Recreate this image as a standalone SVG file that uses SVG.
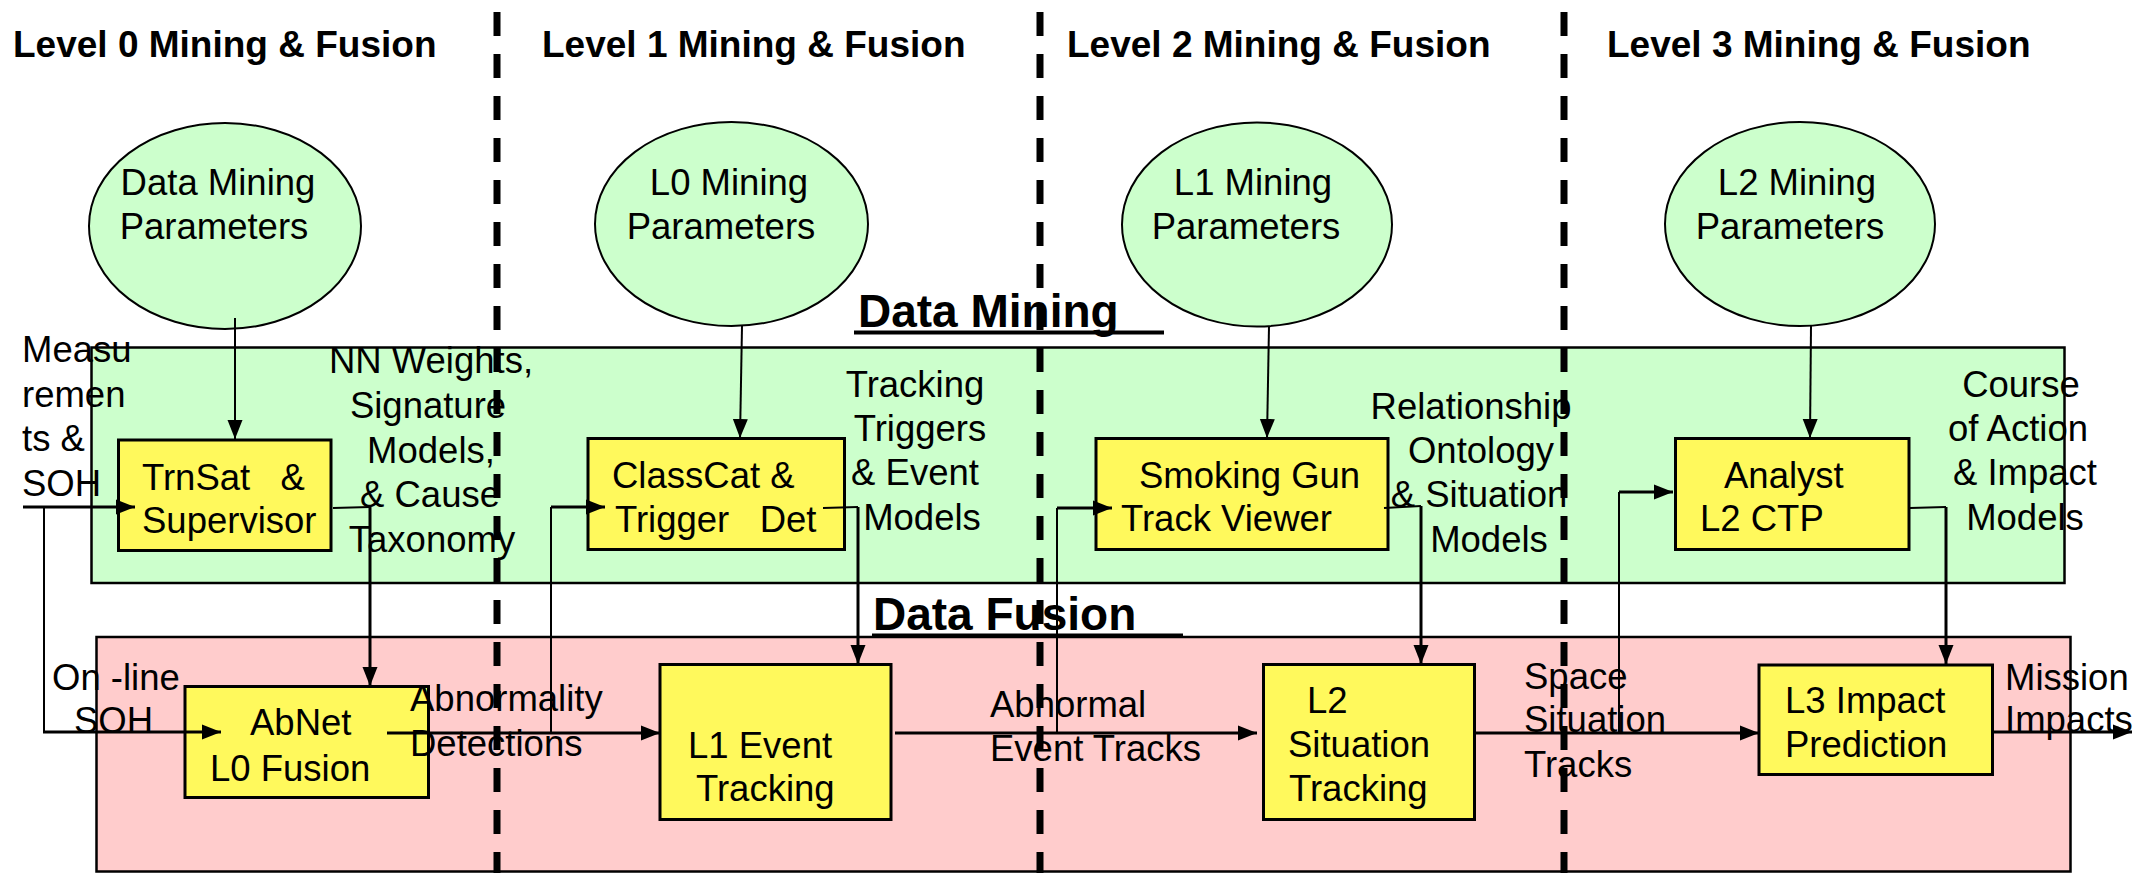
<svg xmlns="http://www.w3.org/2000/svg" width="2151" height="873" viewBox="0 0 2151 873">
  <style>
    .t { font-family: "Liberation Sans", Arial, sans-serif; font-size: 36.5px; fill: #000; }
    .b { font-weight: bold; font-size: 37px; }
    .sec { font-family: "Liberation Sans", Arial, sans-serif; font-size: 46px; font-weight: bold; fill: #000; }
    .m { text-anchor: middle; }
    .band-mine { fill: #CCFFCC; stroke: #000; stroke-width: 2.5; }
    .band-fuse { fill: #FFCCCC; stroke: #000; stroke-width: 2.5; }
    .divider { stroke: #000; stroke-width: 7; stroke-dasharray: 24 18; fill: none; }
    .param { fill: #CCFFCC; stroke: #000; stroke-width: 2; }
    .box { fill: #FFF95C; stroke: #000; stroke-width: 3; }
    .thin { stroke: #000; stroke-width: 2; fill: none; }
    .thick { stroke: #000; stroke-width: 3; fill: none; }
    .arr { marker-end: url(#ah); }
  </style>
  <defs>
    <marker id="ah" markerUnits="userSpaceOnUse" markerWidth="19" markerHeight="16" refX="19" refY="8" orient="auto">
      <path d="M0,0.5 L19,8 L0,15.5 z" fill="#000"/>
    </marker>
  </defs>

  <rect width="2151" height="873" fill="#fff"/>

  <!-- processing bands -->
  <g id="band-mining">
    <rect class="band-mine" x="91.5" y="347.5" width="1973" height="235.5"/>
  </g>
  <g id="band-fusion">
    <rect class="band-fuse" x="96.5" y="637" width="1974" height="234.5"/>
  </g>

  <!-- level dividers -->
  <g id="dividers">
    <line class="divider" x1="497" y1="12" x2="497" y2="873"/>
    <line class="divider" x1="1040" y1="12" x2="1040" y2="873"/>
    <line class="divider" x1="1564" y1="12" x2="1564" y2="873"/>
  </g>

  <!-- level headings -->
  <g id="headings">
    <text class="t b" x="13" y="57">Level 0 Mining &amp; Fusion</text>
    <text class="t b" x="542" y="57">Level 1 Mining &amp; Fusion</text>
    <text class="t b" x="1067" y="57">Level 2 Mining &amp; Fusion</text>
    <text class="t b" x="1607" y="57">Level 3 Mining &amp; Fusion</text>
    <text class="sec" x="858" y="327">Data Mining</text>
    <rect x="854" y="330.5" width="310" height="4" fill="#000"/>
    <text class="sec" x="873" y="630">Data Fusion</text>
    <rect x="872" y="633.5" width="311" height="4" fill="#000"/>
  </g>

  <!-- mining parameter sources -->
  <g id="dm-params">
    <ellipse class="param" cx="225" cy="226" rx="136" ry="103"/>
    <text class="t m" x="218" y="195">Data Mining</text>
    <text class="t m" x="214" y="239">Parameters</text>
  </g>
  <g id="l0-params">
    <ellipse class="param" cx="731.5" cy="224" rx="136.5" ry="102"/>
    <text class="t m" x="729" y="195">L0 Mining</text>
    <text class="t m" x="721" y="239">Parameters</text>
  </g>
  <g id="l1-params">
    <ellipse class="param" cx="1257" cy="224.5" rx="135" ry="102"/>
    <text class="t m" x="1253" y="195">L1 Mining</text>
    <text class="t m" x="1246" y="239">Parameters</text>
  </g>
  <g id="l2-params">
    <ellipse class="param" cx="1800" cy="224" rx="135" ry="102"/>
    <text class="t m" x="1797" y="195">L2 Mining</text>
    <text class="t m" x="1790" y="239">Parameters</text>
  </g>

  <!-- mining stages -->
  <g id="trnsat">
    <rect class="box" x="118.5" y="440" width="212.5" height="110.5"/>
    <text class="t" x="142" y="490" xml:space="preserve">TrnSat   &amp;</text>
    <text class="t" x="142" y="533">Supervisor</text>
  </g>
  <g id="classcat">
    <rect class="box" x="588" y="438.5" width="256.5" height="111"/>
    <text class="t" x="612" y="488">ClassCat &amp;</text>
    <text class="t" x="615" y="532" xml:space="preserve">Trigger   Det</text>
  </g>
  <g id="smoking-gun">
    <rect class="box" x="1096" y="438.5" width="292" height="111"/>
    <text class="t" x="1139" y="488">Smoking Gun</text>
    <text class="t" x="1121" y="531">Track Viewer</text>
  </g>
  <g id="analyst">
    <rect class="box" x="1675.5" y="438.5" width="233.5" height="111"/>
    <text class="t" x="1724" y="488">Analyst</text>
    <text class="t" x="1700" y="531">L2 CTP</text>
  </g>

  <!-- fusion stages -->
  <g id="abnet">
    <rect class="box" x="185" y="686.5" width="243.5" height="111"/>
    <text class="t" x="250" y="735">AbNet</text>
    <text class="t" x="210" y="781">L0 Fusion</text>
  </g>
  <g id="l1-tracking">
    <rect class="box" x="660" y="664.5" width="231" height="155"/>
    <text class="t" x="688" y="758">L1 Event</text>
    <text class="t" x="696" y="801">Tracking</text>
  </g>
  <g id="l2-tracking">
    <rect class="box" x="1263.5" y="664.5" width="211" height="155"/>
    <text class="t" x="1307" y="713">L2</text>
    <text class="t" x="1288" y="757">Situation</text>
    <text class="t" x="1289" y="801">Tracking</text>
  </g>
  <g id="l3-impact">
    <rect class="box" x="1759" y="665" width="233.5" height="109.5"/>
    <text class="t" x="1785" y="713">L3 Impact</text>
    <text class="t" x="1785" y="757">Prediction</text>
  </g>

  <!-- flows -->
  <g id="connectors">
    <!-- measurements in, with on-line SOH tap -->
    <path class="thick arr" d="M23,507 H135"/>
    <path class="thin" d="M44,507 V732"/>
    <path class="thick arr" d="M43,732 H221"/>
    <!-- parameters down to mining stages -->
    <path class="thin arr" d="M235,318 V439"/>
    <path class="thin arr" d="M742,326 L740,438"/>
    <path class="thin arr" d="M1269,326 L1267,438"/>
    <path class="thin arr" d="M1811,326 L1810,438"/>
    <!-- mined models down to fusion stages -->
    <path class="thin" d="M333,508 L370,507"/>
    <path class="thick arr" d="M370,507 V686"/>
    <path class="thin" d="M823,508 L858,507"/>
    <path class="thick arr" d="M858,507 V664"/>
    <path class="thin" d="M1384,508 L1421,506"/>
    <path class="thick arr" d="M1421,506 V664"/>
    <path class="thin" d="M1910,508 L1946,507"/>
    <path class="thick arr" d="M1946,507 V664"/>
    <!-- fusion chain -->
    <path class="thick arr" d="M387,733 H660"/>
    <path class="thick arr" d="M895,733 H1257"/>
    <path class="thick arr" d="M1474,733 H1759"/>
    <path class="thick arr" d="M1993,732 H2132"/>
    <!-- fusion outputs fed back up to the next miner -->
    <path class="thin" d="M551,733 V507"/>
    <path class="thick arr" d="M551,507 H605"/>
    <path class="thin" d="M1057,733 V508"/>
    <path class="thick arr" d="M1057,508 H1112"/>
    <path class="thin" d="M1619,733 V492"/>
    <path class="thick arr" d="M1619,492 H1673"/>
  </g>

  <!-- flow labels -->
  <g id="labels">
    <text class="t" x="22" y="362">Measu</text>
    <text class="t" x="22" y="407">remen</text>
    <text class="t" x="22" y="451">ts &amp;</text>
    <text class="t" x="22" y="496">SOH</text>

    <text class="t m" x="431" y="373">NN Weights,</text>
    <text class="t m" x="428" y="418">Signature</text>
    <text class="t m" x="431" y="463">Models,</text>
    <text class="t m" x="430" y="507">&amp; Cause</text>
    <text class="t m" x="432" y="552">Taxonomy</text>

    <text class="t m" x="915" y="397">Tracking</text>
    <text class="t m" x="920" y="441">Triggers</text>
    <text class="t m" x="915" y="485">&amp; Event</text>
    <text class="t m" x="922" y="530">Models</text>

    <text class="t m" x="1471" y="419">Relationship</text>
    <text class="t m" x="1481" y="463">Ontology</text>
    <text class="t m" x="1479" y="507">&amp; Situation</text>
    <text class="t m" x="1489" y="552">Models</text>

    <text class="t m" x="2021" y="397">Course</text>
    <text class="t m" x="2018" y="441">of Action</text>
    <text class="t m" x="2025" y="485">&amp; Impact</text>
    <text class="t m" x="2025" y="530">Models</text>

    <text class="t" x="52" y="690">On -line</text>
    <text class="t" x="74" y="733">SOH</text>

    <text class="t" x="410" y="711">Abnormality</text>
    <text class="t" x="410" y="756">Detections</text>

    <text class="t" x="990" y="717">Abnormal</text>
    <text class="t" x="990" y="761">Event Tracks</text>

    <text class="t" x="1524" y="689">Space</text>
    <text class="t" x="1524" y="732">Situation</text>
    <text class="t" x="1524" y="777">Tracks</text>

    <text class="t" x="2005" y="690">Mission</text>
    <text class="t" x="2005" y="732">Impacts</text>
  </g>
</svg>
